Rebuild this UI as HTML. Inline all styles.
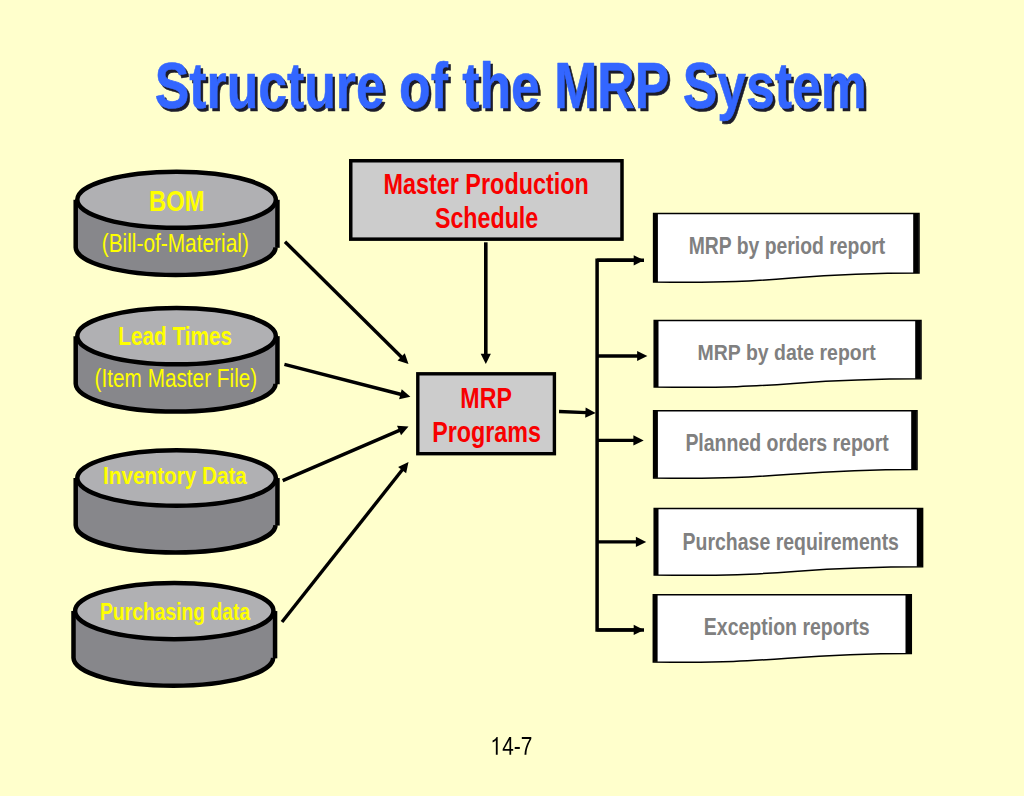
<!DOCTYPE html>
<html><head><meta charset="utf-8"><title>Structure of the MRP System</title>
<style>
html,body{margin:0;padding:0;background:#FFFFCC;width:1024px;height:796px;overflow:hidden;}
svg{display:block;position:absolute;left:0;top:0;}
</style></head>
<body>
<svg width="1024" height="796" viewBox="0 0 1024 796">
<defs><filter id="sh" x="-5%" y="-20%" width="110%" height="140%"><feGaussianBlur stdDeviation="0.75"/></filter></defs>
<rect width="1024" height="796" fill="#FFFFCC"/>
<text filter="url(#sh)" transform="translate(157.29,110.50) scale(0.51731,0.64203)" font-family="Liberation Sans" font-weight="bold" font-size="100" fill="#1c1c2a" stroke="#1c1c2a" stroke-width="0.935" stroke-linejoin="round">Structure of the MRP System</text>
<text transform="translate(154.79,108.00) scale(0.51731,0.64203)" font-family="Liberation Sans" font-weight="bold" font-size="100" fill="#3366FF" stroke="#3366FF" stroke-width="0.935" stroke-linejoin="round">Structure of the MRP System</text>
<path d="M75.70,199.80 L75.70,247.30 A99.93,28.0 0 0 0 275.55,247.30 L277.45,247.30 L277.45,199.80 Z" fill="#87878B"/>
<path d="M75.70,199.80 L75.70,247.30 A99.93,28.0 0 0 0 275.55,247.30" fill="none" stroke="#000" stroke-width="4.5" stroke-linejoin="round"/>
<line x1="277.45" y1="199.80" x2="277.45" y2="247.80" stroke="#000" stroke-width="4.5"/>
<ellipse cx="176.57" cy="199.80" rx="99.28" ry="28.0" fill="#B0B0B3" stroke="#000" stroke-width="4.5"/>
<path d="M75.70,336.15 L75.70,383.75 A99.93,28.15 0 0 0 275.55,383.75 L277.45,383.75 L277.45,336.15 Z" fill="#87878B"/>
<path d="M75.70,336.15 L75.70,383.75 A99.93,28.15 0 0 0 275.55,383.75" fill="none" stroke="#000" stroke-width="4.5" stroke-linejoin="round"/>
<line x1="277.45" y1="336.15" x2="277.45" y2="384.25" stroke="#000" stroke-width="4.5"/>
<ellipse cx="176.57" cy="336.15" rx="99.28" ry="28.15" fill="#B0B0B3" stroke="#000" stroke-width="4.5"/>
<path d="M75.70,478.05 L75.70,525.05 A99.93,27.8 0 0 0 275.55,525.05 L277.45,525.05 L277.45,478.05 Z" fill="#87878B"/>
<path d="M75.70,478.05 L75.70,525.05 A99.93,27.8 0 0 0 275.55,525.05" fill="none" stroke="#000" stroke-width="4.5" stroke-linejoin="round"/>
<line x1="277.45" y1="478.05" x2="277.45" y2="525.55" stroke="#000" stroke-width="4.5"/>
<ellipse cx="176.57" cy="478.05" rx="99.28" ry="27.8" fill="#B0B0B3" stroke="#000" stroke-width="4.5"/>
<path d="M73.50,611.05 L73.50,657.85 A99.83,28.15 0 0 0 273.15,657.85 L275.05,657.85 L275.05,611.05 Z" fill="#87878B"/>
<path d="M73.50,611.05 L73.50,657.85 A99.83,28.15 0 0 0 273.15,657.85" fill="none" stroke="#000" stroke-width="4.5" stroke-linejoin="round"/>
<line x1="275.05" y1="611.05" x2="275.05" y2="658.35" stroke="#000" stroke-width="4.5"/>
<ellipse cx="174.28" cy="611.05" rx="99.18" ry="28.15" fill="#B0B0B3" stroke="#000" stroke-width="4.5"/>
<text transform="translate(149.09,211.25) scale(0.23800,0.29493)" font-family="Liberation Sans" font-weight="bold" font-size="100" fill="#FFFF00">BOM</text>
<text transform="translate(101.70,251.90) scale(0.20866,0.26087)" font-family="Liberation Sans" font-size="100" fill="#FFFF00">(Bill-of-Material)</text>
<text transform="translate(118.20,345.00) scale(0.20781,0.26232)" font-family="Liberation Sans" font-weight="bold" font-size="100" fill="#FFFF00">Lead Times</text>
<text transform="translate(94.60,387.20) scale(0.20759,0.25507)" font-family="Liberation Sans" font-size="100" fill="#FFFF00">(Item Master File)</text>
<text transform="translate(103.10,484.00) scale(0.20697,0.24275)" font-family="Liberation Sans" font-weight="bold" font-size="100" fill="#FFFF00">Inventory Data</text>
<text transform="translate(99.95,619.50) scale(0.19333,0.24638)" font-family="Liberation Sans" font-weight="bold" font-size="100" fill="#FFFF00">Purchasing data</text>
<rect x="350.75" y="160.75" width="271.25" height="78.4" fill="#CCCCCC" stroke="#000" stroke-width="3.5"/>
<text transform="translate(383.42,193.75) scale(0.23410,0.29928)" font-family="Liberation Sans" font-weight="bold" font-size="100" fill="#F80000">Master Production</text>
<text transform="translate(434.90,227.50) scale(0.23252,0.29928)" font-family="Liberation Sans" font-weight="bold" font-size="100" fill="#F80000">Schedule</text>
<rect x="417.8" y="373.8" width="136.6" height="79.9" fill="#CCCCCC" stroke="#000" stroke-width="3.4"/>
<text transform="translate(460.33,407.75) scale(0.23208,0.29928)" font-family="Liberation Sans" font-weight="bold" font-size="100" fill="#F80000">MRP</text>
<text transform="translate(432.23,441.70) scale(0.23289,0.29275)" font-family="Liberation Sans" font-weight="bold" font-size="100" fill="#F80000">Programs</text>
<line x1="285.00" y1="241.70" x2="401.89" y2="357.46" stroke="#000" stroke-width="3.4"/>
<polygon points="408.50,364.00 397.59,360.38 404.77,353.13" fill="#000"/>
<line x1="284.40" y1="364.30" x2="401.39" y2="394.48" stroke="#000" stroke-width="3.4"/>
<polygon points="410.40,396.80 399.15,399.17 401.70,389.29" fill="#000"/>
<line x1="282.70" y1="480.60" x2="399.96" y2="430.08" stroke="#000" stroke-width="3.4"/>
<polygon points="408.50,426.40 401.06,435.16 397.02,425.79" fill="#000"/>
<line x1="282.00" y1="622.00" x2="402.73" y2="469.30" stroke="#000" stroke-width="3.4"/>
<polygon points="408.50,462.00 406.11,473.24 398.11,466.92" fill="#000"/>
<line x1="485.80" y1="242.30" x2="485.80" y2="354.70" stroke="#000" stroke-width="3.6"/>
<polygon points="485.80,364.00 480.70,353.70 490.90,353.70" fill="#000"/>
<line x1="559.00" y1="411.50" x2="586.41" y2="412.62" stroke="#000" stroke-width="3.4"/>
<polygon points="595.70,413.00 585.20,417.68 585.62,407.48" fill="#000"/>
<path d="M644,260.3 L597.1,260.3 L597.1,629.9 L644,629.9" fill="none" stroke="#000" stroke-width="3.5"/>
<line x1="597.10" y1="260.30" x2="634.70" y2="260.30" stroke="#000" stroke-width="3.4"/>
<polygon points="644.00,260.30 633.70,265.40 633.70,255.20" fill="#000"/>
<line x1="597.10" y1="356.00" x2="638.10" y2="356.00" stroke="#000" stroke-width="3.4"/>
<polygon points="647.40,356.00 637.10,361.10 637.10,350.90" fill="#000"/>
<line x1="597.10" y1="440.40" x2="634.40" y2="440.40" stroke="#000" stroke-width="3.4"/>
<polygon points="643.70,440.40 633.40,445.50 633.40,435.30" fill="#000"/>
<line x1="597.10" y1="541.90" x2="636.90" y2="541.90" stroke="#000" stroke-width="3.4"/>
<polygon points="646.20,541.90 635.90,547.00 635.90,536.80" fill="#000"/>
<line x1="597.10" y1="629.90" x2="634.70" y2="629.90" stroke="#000" stroke-width="3.4"/>
<polygon points="644.00,629.90 633.70,635.00 633.70,624.80" fill="#000"/>
<path d="M653.60,213.60 L919.00,213.60 L919.00,273.00 C786.30,273.00 786.30,284.50 653.60,282.00 Z" fill="#fff" stroke="#000" stroke-width="1.5"/>
<rect x="653.60" y="213.10" width="4.3" height="68.90" fill="#000"/>
<rect x="913.20" y="213.10" width="5.5" height="59.90" fill="#000"/>
<path d="M654.20,320.50 L921.00,320.50 L921.00,378.80 C787.60,378.80 787.60,389.50 654.20,387.00 Z" fill="#fff" stroke="#000" stroke-width="1.5"/>
<rect x="654.20" y="320.00" width="4.3" height="67.00" fill="#000"/>
<rect x="915.20" y="320.00" width="5.5" height="58.80" fill="#000"/>
<path d="M653.60,410.80 L917.00,410.80 L917.00,469.40 C785.30,469.40 785.30,480.40 653.60,477.90 Z" fill="#fff" stroke="#000" stroke-width="1.5"/>
<rect x="653.60" y="410.30" width="4.3" height="67.60" fill="#000"/>
<rect x="911.20" y="410.30" width="5.5" height="59.10" fill="#000"/>
<path d="M654.20,508.50 L922.60,508.50 L922.60,566.80 C788.40,566.80 788.40,577.50 654.20,575.00 Z" fill="#fff" stroke="#000" stroke-width="1.5"/>
<rect x="654.20" y="508.00" width="4.3" height="67.00" fill="#000"/>
<rect x="916.80" y="508.00" width="5.5" height="58.80" fill="#000"/>
<path d="M653.30,594.80 L911.30,594.80 L911.30,653.40 C782.30,653.40 782.30,664.40 653.30,661.90 Z" fill="#fff" stroke="#000" stroke-width="1.5"/>
<rect x="653.30" y="594.30" width="4.3" height="67.60" fill="#000"/>
<rect x="905.50" y="594.30" width="5.5" height="59.10" fill="#000"/>
<text transform="translate(688.69,254.00) scale(0.19364,0.23188)" font-family="Liberation Sans" font-weight="bold" font-size="100" fill="#808080">MRP by period report</text>
<text transform="translate(697.58,360.40) scale(0.19482,0.22899)" font-family="Liberation Sans" font-weight="bold" font-size="100" fill="#808080">MRP by date report</text>
<text transform="translate(685.38,451.00) scale(0.19484,0.23768)" font-family="Liberation Sans" font-weight="bold" font-size="100" fill="#808080">Planned orders report</text>
<text transform="translate(682.59,550.40) scale(0.19478,0.23406)" font-family="Liberation Sans" font-weight="bold" font-size="100" fill="#808080">Purchase requirements</text>
<text transform="translate(703.78,635.00) scale(0.19506,0.23768)" font-family="Liberation Sans" font-weight="bold" font-size="100" fill="#808080">Exception reports</text>
<g transform="translate(490.59,754.80) scale(0.010187,-0.012562)" fill="#000"><path transform="translate(0,0)" d="M515,0 L696,0 L696,1409 L580,1409 C540,1320 420,1200 197,1130 L197,975 C330,1010 440,1080 515,1150 Z"/><path transform="translate(1139,0)" d="M881 319V0H711V319H47V459L692 1409H881V461H1079V319ZM711 1206Q709 1200 683.0 1153.0Q657 1106 644 1087L283 555L229 481L213 461H711Z"/><path transform="translate(2278,0)" d="M91 464V624H591V464Z"/><path transform="translate(2960,0)" d="M1036 1263Q820 933 731.0 746.0Q642 559 597.5 377.0Q553 195 553 0H365Q365 270 479.5 568.5Q594 867 862 1256H105V1409H1036Z"/></g>
</svg>
</body></html>
